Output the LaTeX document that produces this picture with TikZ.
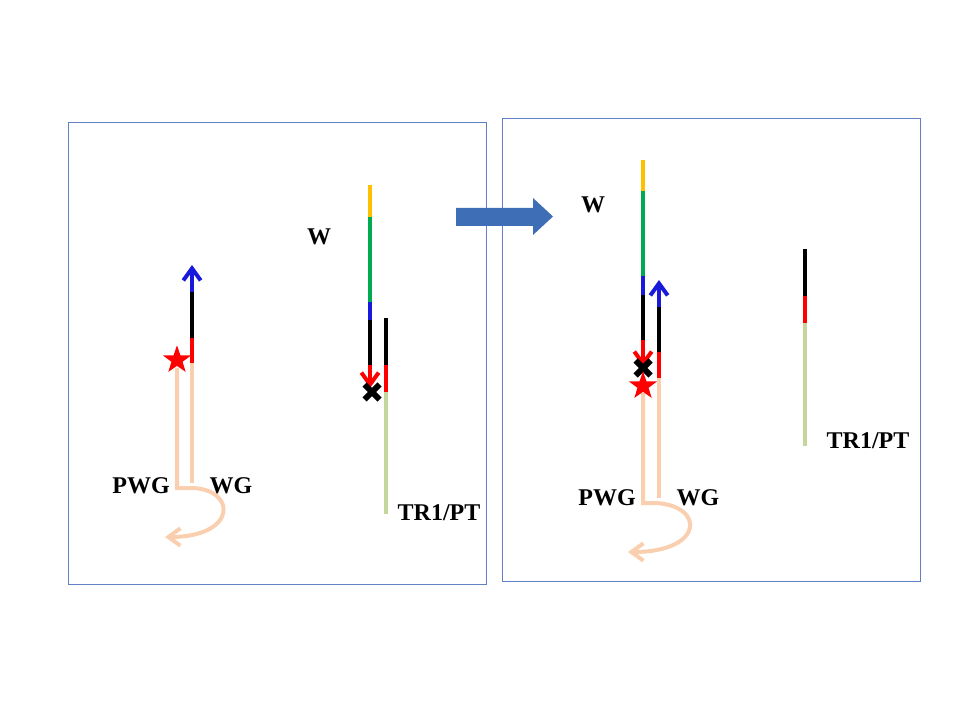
\documentclass[tikz,border=0pt]{standalone}
\usepackage{fontspec}
\setmainfont{Liberation Serif}
\usetikzlibrary{arrows.meta,shapes.geometric}
\definecolor{boxblue}{RGB}{96,128,196}
\definecolor{wyellow}{RGB}{255,192,0}
\definecolor{wgreen}{RGB}{0,170,80}
\definecolor{wblue}{RGB}{25,25,220}
\definecolor{peach}{RGB}{250,207,175}
\definecolor{pale}{RGB}{195,214,155}
\definecolor{bigarrow}{RGB}{62,110,182}
\begin{document}
\begin{tikzpicture}[x=0.75pt,y=-0.75pt,
  box/.style={draw=boxblue,line width=0.7pt},
  seg/.style={line width=3pt},
  uptip/.style={-{Straight Barb[length=9pt,width=13pt]}},
  lbl/.style={font=\bfseries\fontsize{18}{20}\selectfont,inner sep=0pt},
  redstar/.style={star,star points=5,star point ratio=2.5,fill=red,inner sep=0pt,minimum size=22pt},
  xmark/.style={line width=4.5pt,black},
  pt/.style={inner sep=0pt,minimum size=0pt}]
\useasboundingbox (0,0) rectangle (960,720);
% panels
\draw[box] (68,122) rectangle (486,584);
\draw[box] (502,118) rectangle (920,581);
% big arrow
\fill[bigarrow] (456,208) -- (533,208) -- (533,198) -- (553,216.5) -- (533,235) -- (533,226) -- (456,226) -- cycle;

% ===== left panel, WG / PWG =====
\coordinate (a1) at (192,265);
\coordinate (a2) at (192,292);
\coordinate (a3) at (192,338);
\coordinate (a4) at (192,363);
\coordinate (a5) at (192,483);
\draw[seg,peach] (a5) -- (a4);
\draw[seg,red] (a4) -- (a3);
\draw[seg,black] (a3) -- (a2);
\draw[seg,wblue,uptip] (a2) -- (a1);
\coordinate (p1) at (177,368);
\coordinate (p2) at (177,488);
\coordinate (p3) at (193,488);
\coordinate (p4) at (165,537);
\draw[seg,peach,uptip] (p1) -- (p2) -- (p3) .. controls (237,490) and (237,537) .. (p4);
\node[redstar] (starL) at (177,360) {};
\node[lbl] (pwgL) at (141,486) {PWG};
\node[lbl] (wgL) at (231,486) {WG};

% ===== left panel, W / TR1 =====
\coordinate (w1) at (370,185);
\coordinate (w2) at (370,217);
\coordinate (w3) at (370,302);
\coordinate (w4) at (370,320);
\coordinate (w5) at (370,365);
\coordinate (w6) at (370,388);
\draw[seg,wyellow] (w1) -- (w2);
\draw[seg,wgreen] (w2) -- (w3);
\draw[seg,wblue] (w3) -- (w4);
\draw[seg,black] (w4) -- (w5);
\draw[seg,red,uptip] (w5) -- (w6);
\coordinate (t1) at (386,318);
\coordinate (t2) at (386,365);
\coordinate (t3) at (386,392);
\coordinate (t4) at (386,514);
\draw[seg,black] (t1) -- (t2);
\draw[seg,red] (t2) -- (t3);
\draw[seg,pale] (t3) -- (t4);
\node[pt] (xL) at (372,392) {};
\draw[xmark] ([shift={(-7.5,-7.5)}]xL.center) -- ([shift={(7.5,7.5)}]xL.center);
\draw[xmark] ([shift={(-7.5,7.5)}]xL.center) -- ([shift={(7.5,-7.5)}]xL.center);
\node[lbl] (wL) at (319,237) {W};
\node[lbl] (trL) at (439,513) {TR1/PT};

% ===== right panel, W =====
\coordinate (v1) at (643,160);
\coordinate (v2) at (643,191);
\coordinate (v3) at (643,276);
\coordinate (v4) at (643,295);
\coordinate (v5) at (643,340);
\coordinate (v6) at (643,367);
\draw[seg,wyellow] (v1) -- (v2);
\draw[seg,wgreen] (v2) -- (v3);
\draw[seg,wblue] (v3) -- (v4);
\draw[seg,black] (v4) -- (v5);
\draw[seg,red,uptip] (v5) -- (v6);
\node[lbl] (wR) at (593,205) {W};

% ===== right panel, WG / PWG =====
\coordinate (b1) at (659,280);
\coordinate (b2) at (659,307);
\coordinate (b3) at (659,352);
\coordinate (b4) at (659,378);
\coordinate (b5) at (659,498);
\draw[seg,peach] (b5) -- (b4);
\draw[seg,red] (b4) -- (b3);
\draw[seg,black] (b3) -- (b2);
\draw[seg,wblue,uptip] (b2) -- (b1);
\coordinate (q1) at (643,393);
\coordinate (q2) at (643,503);
\coordinate (q3) at (655,503);
\coordinate (q4) at (628,552);
\draw[seg,peach,uptip] (q1) -- (q2) -- (q3) .. controls (705,505) and (705,552) .. (q4);
\node[pt] (xR) at (643,368) {};
\draw[xmark] ([shift={(-7.5,-7.5)}]xR.center) -- ([shift={(7.5,7.5)}]xR.center);
\draw[xmark] ([shift={(-7.5,7.5)}]xR.center) -- ([shift={(7.5,-7.5)}]xR.center);
\node[redstar] (starR) at (643,386) {};
\node[lbl] (pwgR) at (607,498) {PWG};
\node[lbl] (wgR) at (698,498) {WG};

% ===== right panel, TR1 =====
\coordinate (s1) at (805,249);
\coordinate (s2) at (805,296);
\coordinate (s3) at (805,323);
\coordinate (s4) at (805,446);
\draw[seg,black] (s1) -- (s2);
\draw[seg,red] (s2) -- (s3);
\draw[seg,pale] (s3) -- (s4);
\node[lbl] (trR) at (868,441) {TR1/PT};
\end{tikzpicture}
\end{document}
